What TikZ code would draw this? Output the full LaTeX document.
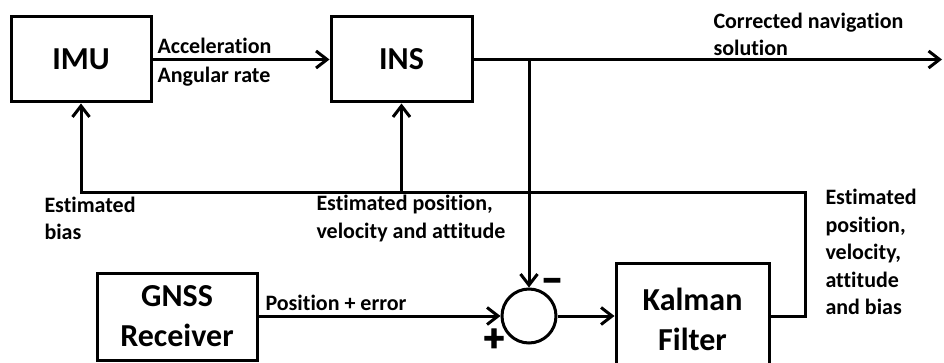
\documentclass[tikz,border=0pt]{standalone}
\usepackage{fontspec}
\setmainfont{Carlito}[Ligatures=NoCommon]
\newfontfamily\sgnfont{Carlito Bold}[FakeBold=2.5]
\usetikzlibrary{arrows.meta}
\tikzset{
	blk/.style={draw,line width=3pt,inner sep=0pt,align=center,font=\bfseries\fontsize{32}{40}\selectfont},
	lbl/.style={anchor=west,align=left,inner sep=0pt,font=\bfseries\fontsize{22}{27.5}\selectfont},
	sgn/.style={anchor=base,inner sep=0pt,text depth=0pt,font=\sgnfont\fontsize{40}{40}\selectfont},
	arr/.style={-{Straight Barb[length=11pt,width=17pt]}}
}
\begin{document}
\begin{tikzpicture}[x=1pt,y=-1pt,line width=3pt]
	\useasboundingbox (0,0) rectangle (944,363);
	\node (v1) at (81,59.5) [blk,minimum width=140pt,minimum height=85pt] {IMU};
	\node (v2) at (401.5,59.5) [blk,minimum width=141pt,minimum height=85pt] {INS};
	\node (v3) at (177,316.5) [blk,minimum width=160pt,minimum height=87pt] {GNSS\\Receiver};
	\node (v4) at (529,316) [circle,draw,minimum size=54pt,inner sep=0pt] {};
	\node (v5) at (692.5,319) [blk,minimum width=153pt,minimum height=112pt] {Kalman\\Filter};
	
	\coordinate (v6) at (942,59.5);
	\coordinate (v7) at (529,59.5);
	\coordinate (v8) at (805,193);
	
	\node (v9) at (156,62) [lbl] {Acceleration\\[2pt]Angular rate};
	\node (v10) at (712,34.5) [lbl] {Corrected navigation\\solution};
	\node (v11) at (43,218.5) [lbl] {Estimated\\bias};
	\node (v12) at (315,218.5) [lbl] {Estimated position,\\velocity and attitude};
	\node (v13) at (264,303) [lbl] {Position + error};
	\node (v14) at (824,252) [lbl] {Estimated\\position,\\velocity,\\attitude\\and bias};
	\node (v15) at (552,293) [sgn] {−};
	\node (v16) at (494,351) [sgn] {+};
	
	\draw [arr] (v1) edge (v2);
	\draw [arr] (v2) -- (v6);
	\draw [arr] (v7) -- (v4);
	\draw [arr] (v3.east |- v4) -- (v4);
	\draw [arr] (v4) -- (v4 -| v5.west);
	\draw [arr] (v4 -| v5.east) -| (v8) -| (v1.south);
	\draw [arr] (v2.south |- v8) -- (v2.south);
\end{tikzpicture}
\end{document}
